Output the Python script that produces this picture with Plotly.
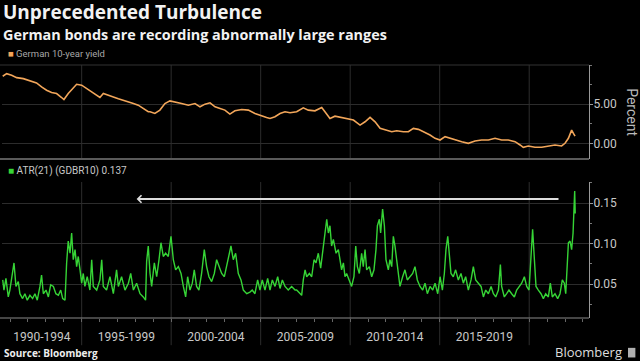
import plotly.graph_objects as go

# ---------------- data ----------------
yield_years = [
    1990.59, 1990.81, 1991.09, 1991.37, 1991.74, 1992.11, 1992.48, 1992.76, 1993.04, 1993.32,
    1993.60, 1993.88, 1994.01, 1994.25, 1994.53, 1994.72, 1995.00, 1995.28, 1995.56, 1995.84,
    1996.02, 1996.21, 1996.49, 1996.77, 1997.05, 1997.33, 1997.61, 1997.89, 1998.16, 1998.44,
    1998.72, 1998.82, 1999.09, 1999.37, 1999.65, 1999.93, 2000.21, 2000.58, 2000.96, 2001.33,
    2001.61, 2001.89, 2002.17, 2002.45, 2002.73, 2003.00, 2003.28, 2003.56, 2003.94, 2004.31,
    2004.68, 2005.05, 2005.33, 2005.52, 2005.80, 2006.08, 2006.36, 2006.64, 2006.92, 2007.01,
    2007.38, 2007.66, 2008.03, 2008.41, 2008.59, 2008.87, 2009.15, 2009.43, 2009.80, 2010.18,
    2010.55, 2010.83, 2011.11, 2011.39, 2011.67, 2012.04, 2012.32, 2012.60, 2012.97, 2013.25,
    2013.53, 2013.81, 2014.09, 2014.46, 2014.74, 2015.02, 2015.30, 2015.58, 2015.85, 2016.23,
    2016.60, 2016.97, 2017.34, 2017.72, 2018.09, 2018.46, 2018.83, 2019.21, 2019.49, 2019.67,
    2019.95, 2020.32, 2020.70, 2021.07, 2021.44, 2021.81, 2022.00, 2022.19, 2022.37, 2022.47,
    2022.56,
]
yield_values = [
    8.56, 8.90, 8.69, 8.39, 8.26, 7.97, 7.71, 7.20, 6.78, 6.48,
    6.36, 5.85, 5.59, 6.36, 7.12, 7.54, 7.42, 6.99, 6.57, 6.14,
    5.85, 6.36, 6.19, 5.93, 5.68, 5.51, 5.30, 5.08, 4.87, 4.45,
    4.03, 4.03, 3.81, 4.24, 5.08, 5.42, 5.30, 5.08, 4.87, 5.08,
    4.66, 5.00, 5.17, 4.66, 4.45, 4.24, 3.73, 4.15, 4.32, 4.24,
    3.81, 3.47, 3.31, 3.18, 3.39, 3.81, 4.03, 3.90, 4.03, 4.03,
    4.53, 4.24, 4.15, 4.58, 4.03, 3.18, 3.47, 3.31, 3.18, 2.97,
    2.33, 2.75, 3.31, 2.75, 1.91, 1.69, 1.48, 1.61, 1.48, 1.48,
    1.91, 1.78, 1.48, 1.06, 0.64, 0.42, 0.85, 0.64, 0.42, 0.21,
    0.00, 0.30, 0.42, 0.42, 0.64, 0.42, 0.42, 0.21, -0.21, -0.51,
    -0.34, -0.51, -0.51, -0.34, -0.21, -0.34, 0.00, 0.64, 1.69, 1.27,
    0.93,
]

atr_years = [
    1990.59, 1990.66, 1990.77, 1990.90, 1990.99, 1991.14, 1991.22, 1991.33, 1991.46, 1991.55,
    1991.70, 1991.83, 1991.96, 1992.11, 1992.26, 1992.39, 1992.52, 1992.67, 1992.76, 1992.86,
    1993.01, 1993.14, 1993.27, 1993.42, 1993.56, 1993.70, 1993.83, 1993.94, 1994.07, 1994.16,
    1994.25, 1994.35, 1994.44, 1994.53, 1994.63, 1994.72, 1994.81, 1994.91, 1995.00, 1995.09,
    1995.18, 1995.31, 1995.46, 1995.56, 1995.65, 1995.84, 1996.02, 1996.12, 1996.21, 1996.39,
    1996.58, 1996.77, 1996.95, 1997.05, 1997.23, 1997.42, 1997.61, 1997.74, 1997.89, 1998.07,
    1998.26, 1998.44, 1998.57, 1998.63, 1998.72, 1998.82, 1998.91, 1999.06, 1999.19, 1999.32,
    1999.43, 1999.56, 1999.69, 1999.84, 1999.99, 2000.12, 2000.25, 2000.40, 2000.55, 2000.68,
    2000.81, 2000.92, 2001.05, 2001.18, 2001.29, 2001.42, 2001.55, 2001.70, 2001.85, 2001.98,
    2002.11, 2002.26, 2002.41, 2002.54, 2002.67, 2002.82, 2002.97, 2003.10, 2003.19, 2003.34,
    2003.47, 2003.60, 2003.75, 2003.90, 2004.03, 2004.22, 2004.40, 2004.53, 2004.68, 2004.83,
    2004.96, 2005.09, 2005.24, 2005.39, 2005.52, 2005.65, 2005.80, 2005.95, 2006.08, 2006.21,
    2006.36, 2006.54, 2006.73, 2006.92, 2007.01, 2007.20, 2007.29, 2007.38, 2007.48, 2007.57,
    2007.72, 2007.85, 2007.98, 2008.09, 2008.22, 2008.35, 2008.50, 2008.59, 2008.69, 2008.78,
    2008.87, 2008.96, 2009.06, 2009.21, 2009.34, 2009.43, 2009.52, 2009.62, 2009.71, 2009.80,
    2009.95, 2010.08, 2010.21, 2010.31, 2010.40, 2010.51, 2010.64, 2010.73, 2010.83, 2010.92,
    2011.07, 2011.20, 2011.33, 2011.44, 2011.52, 2011.63, 2011.70, 2011.81, 2011.91, 2012.00,
    2012.13, 2012.22, 2012.32, 2012.41, 2012.50, 2012.60, 2012.69, 2012.78, 2012.93, 2013.06,
    2013.19, 2013.34, 2013.49, 2013.62, 2013.75, 2013.90, 2014.05, 2014.18, 2014.31, 2014.46,
    2014.61, 2014.74, 2014.89, 2015.02, 2015.15, 2015.26, 2015.35, 2015.45, 2015.54, 2015.63,
    2015.76, 2015.89, 2016.04, 2016.19, 2016.32, 2016.45, 2016.60, 2016.75, 2016.88, 2017.01,
    2017.16, 2017.31, 2017.44, 2017.57, 2017.72, 2017.87, 2018.00, 2018.13, 2018.28, 2018.39,
    2018.46, 2018.61, 2018.74, 2018.87, 2019.02, 2019.17, 2019.30, 2019.43, 2019.58, 2019.73,
    2019.86, 2019.99, 2020.10, 2020.19, 2020.29, 2020.38, 2020.51, 2020.66, 2020.79, 2020.92,
    2021.07, 2021.18, 2021.29, 2021.44, 2021.59, 2021.72, 2021.85, 2021.96, 2022.04, 2022.11,
    2022.19, 2022.28, 2022.37, 2022.45, 2022.50, 2022.54, 2022.57,
]
atr_values = [
    0.055, 0.0425, 0.057, 0.034, 0.0425, 0.063, 0.076, 0.047, 0.053, 0.038,
    0.032, 0.038, 0.030, 0.036, 0.032, 0.038, 0.030, 0.047, 0.061, 0.038,
    0.0425, 0.034, 0.049, 0.047, 0.038, 0.036, 0.0425, 0.032, 0.030, 0.076,
    0.103, 0.088, 0.113, 0.080, 0.0925, 0.0715, 0.084, 0.0675, 0.051, 0.063,
    0.047, 0.059, 0.0425, 0.080, 0.047, 0.0425, 0.055, 0.080, 0.047, 0.0425,
    0.059, 0.038, 0.0675, 0.047, 0.059, 0.0425, 0.051, 0.063, 0.0425, 0.051,
    0.038, 0.034, 0.030, 0.078, 0.097, 0.063, 0.047, 0.076, 0.059, 0.080,
    0.101, 0.084, 0.088, 0.084, 0.109, 0.080, 0.0675, 0.0715, 0.063, 0.047,
    0.034, 0.059, 0.0425, 0.051, 0.0675, 0.047, 0.0425, 0.063, 0.0925, 0.0715,
    0.059, 0.053, 0.063, 0.080, 0.0715, 0.063, 0.059, 0.0715, 0.084, 0.097,
    0.080, 0.088, 0.063, 0.055, 0.0425, 0.038, 0.040, 0.0425, 0.038, 0.055,
    0.0425, 0.055, 0.0425, 0.057, 0.0425, 0.055, 0.047, 0.059, 0.0445, 0.055,
    0.047, 0.0425, 0.047, 0.0425, 0.0425, 0.038, 0.036, 0.055, 0.0675, 0.059,
    0.063, 0.059, 0.080, 0.076, 0.088, 0.0695, 0.097, 0.113, 0.130, 0.113,
    0.122, 0.097, 0.105, 0.088, 0.0925, 0.080, 0.0675, 0.076, 0.059, 0.063,
    0.053, 0.047, 0.059, 0.097, 0.0715, 0.063, 0.088, 0.0715, 0.0925, 0.0675,
    0.0715, 0.059, 0.0675, 0.0925, 0.122, 0.130, 0.113, 0.1425, 0.122, 0.080,
    0.0675, 0.080, 0.0715, 0.109, 0.097, 0.080, 0.063, 0.047, 0.059, 0.0675,
    0.055, 0.059, 0.063, 0.0715, 0.055, 0.047, 0.0425, 0.051, 0.038, 0.047,
    0.0425, 0.051, 0.038, 0.059, 0.0425, 0.063, 0.0925, 0.109, 0.080, 0.063,
    0.059, 0.0675, 0.055, 0.063, 0.051, 0.059, 0.0425, 0.055, 0.0715, 0.055,
    0.051, 0.047, 0.034, 0.0425, 0.038, 0.047, 0.038, 0.034, 0.0425, 0.074,
    0.047, 0.034, 0.038, 0.0425, 0.038, 0.034, 0.0425, 0.047, 0.051, 0.059,
    0.047, 0.0425, 0.080, 0.1175, 0.080, 0.047, 0.0425, 0.038, 0.032, 0.038,
    0.034, 0.051, 0.034, 0.038, 0.032, 0.038, 0.055, 0.051, 0.038, 0.063,
    0.101, 0.103, 0.0925, 0.113, 0.147, 0.165, 0.137,
]

period_starts = [1990, 1995, 2000, 2005, 2010, 2015]
period_labels = ["1990-1994", "1995-1999", "2000-2004", "2005-2009", "2010-2014", "2015-2019"]
grid_years = [1995, 2000, 2005, 2010, 2015, 2020]

arrow_from_year = 2021.72
arrow_to_year = 1998.07
arrow_level = 0.155

# ---------------- styling ----------------
X_MIN, X_MAX = 1990.55, 2023.34
ORANGE = "#f2a65a"
GREEN = "#36d436"
GRID = "#2c2c2c"
TXT = "#c8c8c8"
FONT = "Roboto"

period_centers = [(max(s, X_MIN) + s + 5) / 2 for s in period_starts]

fig = go.Figure()
fig.add_trace(go.Scatter(x=yield_years, y=yield_values, mode="lines",
                         line=dict(color=ORANGE, width=1.6), xaxis="x", yaxis="y",
                         showlegend=False, hoverinfo="skip"))
fig.add_trace(go.Scatter(x=atr_years, y=atr_values, mode="lines",
                         line=dict(color=GREEN, width=1.4), xaxis="x2", yaxis="y2",
                         showlegend=False, hoverinfo="skip"))

shapes = []
for gy in grid_years:
    shapes.append(dict(type="line", xref="x", yref="y domain", x0=gy, x1=gy, y0=0, y1=1,
                       line=dict(color=GRID, width=1), layer="below"))
    shapes.append(dict(type="line", xref="x2", yref="y2 domain", x0=gy, x1=gy, y0=-0.2, y1=1,
                       line=dict(color=GRID, width=1), layer="below"))
# panel borders
shapes.append(dict(type="line", xref="paper", yref="y domain", x0=-0.004, x1=1, y0=1, y1=1,
                   line=dict(color="#333333", width=1)))
shapes.append(dict(type="line", xref="paper", yref="y domain", x0=-0.004, x1=1, y0=0, y1=0,
                   line=dict(color="#5a5a5a", width=2)))
shapes.append(dict(type="line", xref="paper", yref="y2 domain", x0=-0.004, x1=1, y0=0, y1=0,
                   line=dict(color="#8a8a8a", width=1)))
# Bloomberg logo mark
shapes.append(dict(type="rect", xref="paper", yref="paper", x0=1.0664, x1=1.079,
                   y0=-0.156, y1=-0.118, fillcolor="#b0b0b0", line=dict(width=0)))

annotations = [
    dict(text="<b>Unprecedented Turbulence</b>", xref="paper", yref="paper", x=-0.001, y=1.208,
         xanchor="left", yanchor="middle", showarrow=False,
         font=dict(family="Open Sans", size=19, color="#f2f2f2")),
    dict(text="<b>German bonds are recording abnormally large ranges</b>", xref="paper", yref="paper",
         x=-0.001, y=1.1205, xanchor="left", yanchor="middle", showarrow=False,
         font=dict(family="Open Sans", size=14.4, color="#f2f2f2")),
    dict(text=f"<span style='color:{ORANGE}'>■</span> German 10-year yield", xref="paper", yref="paper",
         x=0.006, y=1.0435, xanchor="left", yanchor="middle", showarrow=False,
         font=dict(family=FONT, size=9.5, color="#a8a8a8")),
    dict(text=f"<span style='color:{GREEN}'>■</span> ATR(21) (GDBR10) 0.137", xref="paper", yref="paper",
         x=0.006, y=0.581, xanchor="left", yanchor="middle", showarrow=False,
         font=dict(family=FONT, size=10, color=TXT)),
    dict(text="Percent", xref="paper", yref="y domain", x=1.073, y=0.5, textangle=90,
         xanchor="center", yanchor="middle", showarrow=False,
         font=dict(family=FONT, size=14, color="#bbbbbb")),
    dict(text="<b>Source: Bloomberg</b>", xref="paper", yref="paper", x=0.0, y=-0.138,
         xanchor="left", yanchor="middle", showarrow=False,
         font=dict(family="Open Sans", size=10, color="#eeeeee")),
    dict(text="Bloomberg", xref="paper", yref="paper", x=1.0596, y=-0.136,
         xanchor="right", yanchor="middle", showarrow=False,
         font=dict(family="Open Sans", size=13, color="#dddddd")),
    dict(text="", x=arrow_to_year, y=arrow_level, xref="x2", yref="y2",
         ax=arrow_from_year, ay=arrow_level, axref="x2", ayref="y2",
         showarrow=True, arrowhead=4, arrowsize=0.8, arrowwidth=1.8, arrowcolor="#dddddd"),
]

tickfont = dict(family=FONT, size=12, color=TXT)

fig.update_layout(
    width=640, height=361,
    margin=dict(l=2, r=51, t=65, b=43),
    paper_bgcolor="#000000", plot_bgcolor="#000000",
    showlegend=False,
    shapes=shapes, annotations=annotations,
    xaxis=dict(domain=[0, 1], range=[X_MIN, X_MAX], anchor="y", showticklabels=False,
               showgrid=False, zeroline=False, showline=False, ticks=""),
    yaxis=dict(domain=[0.6285, 1], range=[-2, 10], side="right", anchor="x",
               tickvals=[0, 5], ticktext=["0.00", "5.00"], tickfont=tickfont,
               showgrid=True, gridcolor=GRID, zeroline=False,
               showline=True, linecolor="#9a9a9a", linewidth=1,
               ticks="outside", ticklen=3, tickcolor="#9a9a9a", ticklabelstandoff=-2,
               minor=dict(tickmode="linear", tick0=0, dtick=2.5, ticks="outside",
                          ticklen=2, tickcolor="#777777", showgrid=False)),
    xaxis2=dict(domain=[0, 1], range=[X_MIN, X_MAX], anchor="y2",
                tickmode="array", tickvals=period_centers, ticktext=period_labels,
                tickfont=tickfont, ticks="", showgrid=False, zeroline=False,
                showline=False, ticklabelstandoff=10,
                minor=dict(tickmode="linear", tick0=1990, dtick=1, ticks="outside",
                           ticklen=3, tickcolor="#666666", showgrid=False)),
    yaxis2=dict(domain=[0, 0.5375], range=[0.008, 0.176], side="right", anchor="x2",
                tickvals=[0.05, 0.10, 0.15], ticktext=["0.05", "0.10", "0.15"], tickfont=tickfont,
                showgrid=True, gridcolor=GRID, zeroline=False,
                showline=True, linecolor="#9a9a9a", linewidth=1,
                ticks="outside", ticklen=3, tickcolor="#9a9a9a", ticklabelstandoff=-2,
                minor=dict(tickmode="linear", tick0=0, dtick=0.025, ticks="outside",
                           ticklen=2, tickcolor="#777777", showgrid=False)),
)

fig.write_html("out.html", config={"displayModeBar": False},
               post_script="document.body.style.margin='0';document.body.style.background='#000';")
